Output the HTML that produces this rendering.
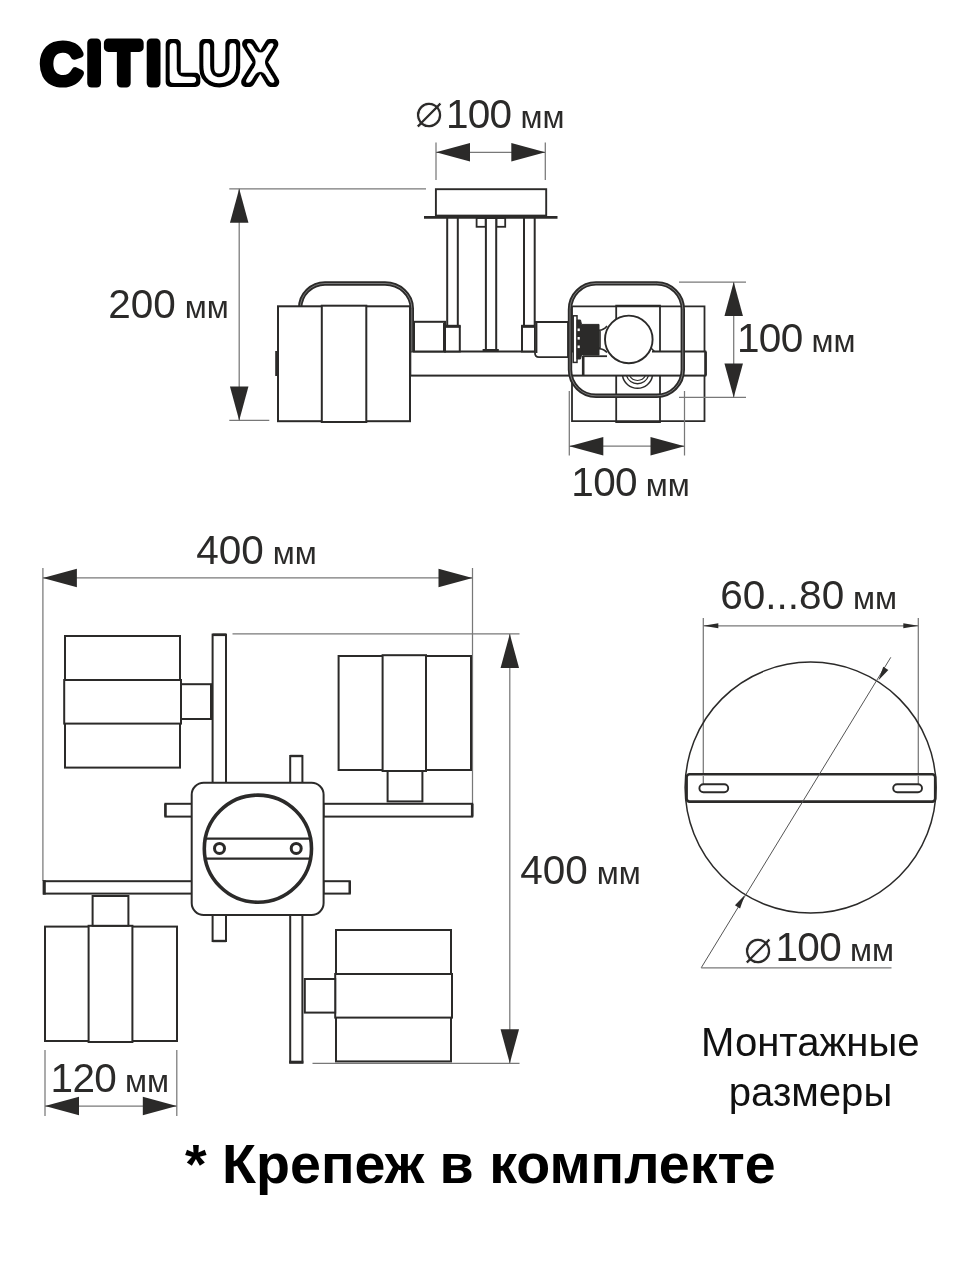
<!DOCTYPE html>
<html lang="ru"><head><meta charset="utf-8"><title>Citilux — монтажные размеры</title>
<style>
html,body{margin:0;padding:0;background:#fff}
body{width:960px;height:1280px;overflow:hidden}
svg{display:block}
.wrap{width:960px;height:1280px;will-change:transform}
.t{font-family:"Liberation Sans",sans-serif;fill:#2b2a29}
.dia{font-family:"DejaVu Sans",sans-serif;stroke:#fff;stroke-width:0.9}
.b{font-family:"Liberation Sans",sans-serif;font-weight:bold;fill:#000}
.lg{font-family:"Liberation Sans",sans-serif;fill:#000;stroke:#000;stroke-linejoin:round;stroke-linecap:round}
</style></head><body>
<div class="wrap">
<svg width="960" height="1280" viewBox="0 0 960 1280">
<rect width="960" height="1280" fill="#fff"/>
<defs><filter id="ol" x="-20%" y="-20%" width="140%" height="140%" color-interpolation-filters="sRGB"><feGaussianBlur in="SourceAlpha" stdDeviation="2.5" result="b"/><feComponentTransfer in="b" result="e"><feFuncA type="linear" slope="22" intercept="-20.3"/></feComponentTransfer><feFlood flood-color="#fff"/><feComposite in2="e" operator="in" result="w"/><feMerge><feMergeNode in="SourceGraphic"/><feMergeNode in="w"/></feMerge></filter></defs>
<g class="logo"><text class="lg"><tspan x="41.14" y="82.65" font-size="56.36" stroke-width="8.2" textLength="40.89" lengthAdjust="spacingAndGlyphs">C</tspan><tspan x="86.48" y="82.80" font-size="56.83" stroke-width="9" textLength="15.24" lengthAdjust="spacingAndGlyphs">I</tspan><tspan x="107.12" y="82.80" font-size="56.83" stroke-width="9" textLength="33.59" lengthAdjust="spacingAndGlyphs">T</tspan><tspan x="145.98" y="82.80" font-size="56.83" stroke-width="9" textLength="15.24" lengthAdjust="spacingAndGlyphs">I</tspan></text><text class="lg" filter="url(#ol)" x="166.04" y="82.40" font-size="55.67" stroke-width="9.8" textLength="31.28" lengthAdjust="spacingAndGlyphs">L</text><text class="lg" filter="url(#ol)" x="199.96" y="81.86" font-size="54.89" stroke-width="9.8" textLength="39.57" lengthAdjust="spacingAndGlyphs">U</text><text class="lg" filter="url(#ol)" x="244.13" y="82.40" font-size="55.67" stroke-width="9.8" textLength="31.87" lengthAdjust="spacingAndGlyphs">X</text></g>
<text x="414.6" y="128.4" class="t" font-size="40.5" text-anchor="start" letter-spacing="-0.65"><tspan class="dia" font-size="48.4" dy="-1.6">⌀</tspan><tspan dy="1.6" dx="2.8">100</tspan><tspan font-size="32" letter-spacing="0"> мм</tspan></text>
<line x1="436" y1="142.5" x2="436" y2="180" stroke="#787878" stroke-width="1.25" />
<line x1="545.3" y1="142.5" x2="545.3" y2="180" stroke="#787878" stroke-width="1.25" />
<line x1="436" y1="152.25" x2="545.3" y2="152.25" stroke="#787878" stroke-width="1.25" />
<polygon points="436.00,152.25 470.00,143.00 470.00,161.50" fill="#2b2a29"/>
<polygon points="545.30,152.25 511.30,161.50 511.30,143.00" fill="#2b2a29"/>
<line x1="229.3" y1="188.8" x2="426" y2="188.8" stroke="#787878" stroke-width="1.25" />
<line x1="229.3" y1="420.4" x2="269.3" y2="420.4" stroke="#787878" stroke-width="1.25" />
<line x1="239.2" y1="188.8" x2="239.2" y2="420.4" stroke="#787878" stroke-width="1.25" />
<polygon points="239.20,188.80 248.45,222.80 229.95,222.80" fill="#2b2a29"/>
<polygon points="239.20,420.40 229.95,386.40 248.45,386.40" fill="#2b2a29"/>
<text x="108.3" y="317.6" class="t" font-size="40.5" text-anchor="start" letter-spacing="0">200<tspan font-size="32" letter-spacing="0"> мм</tspan></text>
<line x1="447.2" y1="218" x2="447.2" y2="326" stroke="#2b2a29" stroke-width="2.0" />
<line x1="457.8" y1="218" x2="457.8" y2="326" stroke="#2b2a29" stroke-width="2.0" />
<line x1="524" y1="218" x2="524" y2="326" stroke="#2b2a29" stroke-width="2.0" />
<line x1="534.7" y1="218" x2="534.7" y2="326" stroke="#2b2a29" stroke-width="2.0" />
<rect x="476.6" y="218" width="9.1" height="8.8" rx="0" fill="#fff" stroke="#2b2a29" stroke-width="1.8"/>
<rect x="496.4" y="218" width="8.8" height="8.8" rx="0" fill="#fff" stroke="#2b2a29" stroke-width="1.8"/>
<rect x="485.9" y="218" width="10.3" height="132" rx="0" fill="#fff" stroke="#2b2a29" stroke-width="2.0"/>
<rect x="435.9" y="189.2" width="110.3" height="26.4" rx="0" fill="#fff" stroke="#2b2a29" stroke-width="1.9"/>
<line x1="424" y1="217.4" x2="557.5" y2="217.4" stroke="#2b2a29" stroke-width="2.6" />
<rect x="410.3" y="351.5" width="295.0" height="24.1" rx="0" fill="#fff" stroke="#2b2a29" stroke-width="2.0"/>
<line x1="482.6" y1="350.4" x2="498.8" y2="350.4" stroke="#2b2a29" stroke-width="2.8" />
<path d="M300.2 309 V308 A24.8 24.5 0 0 1 325 283.5 H385 A26.8 25 0 0 1 411.8 308.5 V351.5" fill="none" stroke="#2b2a29" stroke-width="4.4"/>
<path d="M300.2 309 V308 A24.8 24.5 0 0 1 325 283.5 H385 A26.8 25 0 0 1 411.8 308.5 V351.5" fill="none" stroke="#8e8e8e" stroke-width="0.8"/>
<rect x="278" y="306.3" width="132" height="114.9" rx="0" fill="#fff" stroke="#2b2a29" stroke-width="2.0"/>
<rect x="321.8" y="305.7" width="44.5" height="116.3" rx="0" fill="#fff" stroke="#2b2a29" stroke-width="2.0"/>
<line x1="276.4" y1="351" x2="276.4" y2="376" stroke="#2b2a29" stroke-width="2.4" />
<rect x="414" y="321.8" width="31" height="29.7" rx="0" fill="#fff" stroke="#2b2a29" stroke-width="2.0"/>
<rect x="445" y="326.2" width="14.8" height="25.3" rx="0" fill="#fff" stroke="#2b2a29" stroke-width="2.0"/>
<line x1="445" y1="326.3" x2="460.4" y2="326.3" stroke="#2b2a29" stroke-width="3.0" />
<line x1="444.2" y1="323" x2="444.2" y2="351.5" stroke="#2b2a29" stroke-width="2.4" />
<rect x="522" y="326.2" width="13" height="25.3" rx="0" fill="#fff" stroke="#2b2a29" stroke-width="2.0"/>
<line x1="521.2" y1="326.3" x2="535.6" y2="326.3" stroke="#2b2a29" stroke-width="3.0" />
<path d="M535 322 H568 V357.2 H539 Q535 357.2 535 353 Z" fill="#fff" stroke="#2b2a29" stroke-width="1.8"/>
<line x1="536.6" y1="323" x2="536.6" y2="353" stroke="#2b2a29" stroke-width="1.6" />
<g fill="none" stroke="#2b2a29" stroke-width="1.8">
<path d="M572 306.3 H704.5 V351.5 M704.5 375.6 V421.2 H572 V375.6 M572 351.5 V306.3"/>
<path d="M616.2 351 V305.7 H660 V351.5 M616.2 375.6 V422 H660 V375.6"/>
</g>
<line x1="705.8" y1="351.5" x2="705.8" y2="375.6" stroke="#2b2a29" stroke-width="2.2" />
<path d="M622.5 375.6 A15.2 15.2 0 0 0 652.5 375.6" fill="none" stroke="#2b2a29" stroke-width="1.5"/>
<path d="M626.5 375.6 A11.5 11.5 0 0 0 648.5 375.6" fill="none" stroke="#2b2a29" stroke-width="1.3"/>
<path d="M629.5 375.6 A9 9 0 0 0 645.5 375.6" fill="none" stroke="#2b2a29" stroke-width="1.1"/>
<rect x="573" y="349" width="79" height="5" fill="#fff"/>
<line x1="583" y1="356.2" x2="607" y2="356.2" stroke="#2b2a29" stroke-width="1.8" />
<line x1="583.2" y1="356" x2="583.2" y2="375.6" stroke="#2b2a29" stroke-width="2.6" />
<rect x="573.2" y="315.8" width="3.8" height="46.6" rx="0" fill="#fff" stroke="#2b2a29" stroke-width="1.5"/>
<path d="M577 320 H580.5 L581.5 324.4 H599 V355 H581.5 L580.5 359 H577 Z" fill="#2b2a29" stroke="#2b2a29" stroke-width="1"/>
<rect x="577.6" y="328.5" width="2.2" height="2.6" fill="#fff"/>
<rect x="577.6" y="337" width="2.2" height="2.6" fill="#fff"/>
<rect x="577.6" y="345.5" width="2.2" height="2.6" fill="#fff"/>
<path d="M599 330.3 Q604 330 607 326 M599 348.6 Q604 349 607 352.5 M600 330 V349" fill="none" stroke="#2b2a29" stroke-width="1.6"/>
<circle cx="628.8" cy="339.4" r="23.8" fill="#fff" stroke="#2b2a29" stroke-width="1.9"/>
<path d="M650.5 347.5 L654.5 351.5" stroke="#2b2a29" stroke-width="1.4"/>
<rect x="570" y="283.4" width="112.8" height="112.4" rx="26" fill="none" stroke="#2b2a29" stroke-width="4.4"/>
<rect x="570" y="283.4" width="112.8" height="112.4" rx="26" fill="none" stroke="#8e8e8e" stroke-width="0.8"/>
<line x1="679" y1="282" x2="746" y2="282" stroke="#787878" stroke-width="1.25" />
<line x1="679" y1="397.4" x2="746" y2="397.4" stroke="#787878" stroke-width="1.25" />
<line x1="733.7" y1="282" x2="733.7" y2="397.4" stroke="#787878" stroke-width="1.25" />
<polygon points="733.70,282.00 742.95,316.00 724.45,316.00" fill="#2b2a29"/>
<polygon points="733.70,397.40 724.45,363.40 742.95,363.40" fill="#2b2a29"/>
<text x="737.0" y="351.5" class="t" font-size="40.5" text-anchor="start" letter-spacing="-0.65">100<tspan font-size="32" letter-spacing="0"> мм</tspan></text>
<line x1="569.3" y1="391" x2="569.3" y2="455.5" stroke="#787878" stroke-width="1.25" />
<line x1="684.5" y1="391" x2="684.5" y2="455.5" stroke="#787878" stroke-width="1.25" />
<line x1="569.3" y1="446.2" x2="684.5" y2="446.2" stroke="#787878" stroke-width="1.25" />
<polygon points="569.30,446.20 603.30,436.95 603.30,455.45" fill="#2b2a29"/>
<polygon points="684.50,446.20 650.50,455.45 650.50,436.95" fill="#2b2a29"/>
<text x="571.3" y="495.6" class="t" font-size="40.5" text-anchor="start" letter-spacing="-0.65">100<tspan font-size="32" letter-spacing="0"> мм</tspan></text>
<line x1="42.9" y1="568" x2="42.9" y2="881" stroke="#787878" stroke-width="1.25" />
<line x1="472.5" y1="568" x2="472.5" y2="805" stroke="#787878" stroke-width="1.25" />
<line x1="42.9" y1="577.9" x2="472.5" y2="577.9" stroke="#787878" stroke-width="1.25" />
<polygon points="42.90,577.90 76.90,568.65 76.90,587.15" fill="#2b2a29"/>
<polygon points="472.50,577.90 438.50,587.15 438.50,568.65" fill="#2b2a29"/>
<text x="196.3" y="563.6" class="t" font-size="40.5" text-anchor="start" letter-spacing="0">400<tspan font-size="32" letter-spacing="0"> мм</tspan></text>
<line x1="232.5" y1="633.8" x2="519.5" y2="633.8" stroke="#787878" stroke-width="1.25" />
<line x1="312.5" y1="1063.3" x2="519.5" y2="1063.3" stroke="#787878" stroke-width="1.25" />
<line x1="509.8" y1="634" x2="509.8" y2="1063" stroke="#787878" stroke-width="1.25" />
<polygon points="509.80,634.00 519.05,668.00 500.55,668.00" fill="#2b2a29"/>
<polygon points="509.80,1063.20 500.55,1029.20 519.05,1029.20" fill="#2b2a29"/>
<text x="520.3" y="883.8" class="t" font-size="40.5" text-anchor="start" letter-spacing="0">400<tspan font-size="32" letter-spacing="0"> мм</tspan></text>
<line x1="45" y1="1050" x2="45" y2="1116" stroke="#787878" stroke-width="1.25" />
<line x1="176.8" y1="1050" x2="176.8" y2="1116" stroke="#787878" stroke-width="1.25" />
<line x1="45" y1="1106" x2="176.8" y2="1106" stroke="#787878" stroke-width="1.25" />
<polygon points="45.00,1106.00 79.00,1096.75 79.00,1115.25" fill="#2b2a29"/>
<polygon points="176.80,1106.00 142.80,1115.25 142.80,1096.75" fill="#2b2a29"/>
<text x="50.599999999999994" y="1092" class="t" font-size="40.5" text-anchor="start" letter-spacing="-0.65">120<tspan font-size="32" letter-spacing="0"> мм</tspan></text>
<rect x="212.6" y="634.6" width="13.4" height="148.4" rx="0" fill="#fff" stroke="#2b2a29" stroke-width="2.0"/>
<line x1="212.6" y1="634.8" x2="226" y2="634.8" stroke="#2b2a29" stroke-width="2.6" />
<rect x="212.6" y="915" width="13.4" height="26" rx="0" fill="#fff" stroke="#2b2a29" stroke-width="2.0"/>
<line x1="212.6" y1="941" x2="226" y2="941" stroke="#2b2a29" stroke-width="2.4" />
<rect x="290.2" y="756" width="12.2" height="27" rx="0" fill="#fff" stroke="#2b2a29" stroke-width="2.0"/>
<line x1="290.2" y1="756" x2="302.4" y2="756" stroke="#2b2a29" stroke-width="2.4" />
<rect x="290.2" y="915" width="12.2" height="147.4" rx="0" fill="#fff" stroke="#2b2a29" stroke-width="2.0"/>
<line x1="289.2" y1="1062.2" x2="303.4" y2="1062.2" stroke="#2b2a29" stroke-width="3.0" />
<rect x="323.5" y="803.8" width="148.7" height="12.8" rx="0" fill="#fff" stroke="#2b2a29" stroke-width="2.0"/>
<line x1="472.2" y1="803.8" x2="472.2" y2="816.6" stroke="#2b2a29" stroke-width="2.6" />
<rect x="165.4" y="803.8" width="26.6" height="12.8" rx="0" fill="#fff" stroke="#2b2a29" stroke-width="2.0"/>
<line x1="165.4" y1="803.8" x2="165.4" y2="816.6" stroke="#2b2a29" stroke-width="2.4" />
<rect x="44" y="881.2" width="148" height="12.4" rx="0" fill="#fff" stroke="#2b2a29" stroke-width="2.0"/>
<line x1="44.2" y1="880.2" x2="44.2" y2="894.6" stroke="#2b2a29" stroke-width="3.2" />
<rect x="323.5" y="881.2" width="26.3" height="12.4" rx="0" fill="#fff" stroke="#2b2a29" stroke-width="2.0"/>
<line x1="349.8" y1="881.2" x2="349.8" y2="893.6" stroke="#2b2a29" stroke-width="2.4" />
<rect x="191.7" y="782.7" width="131.9" height="132.3" rx="12" fill="#fff" stroke="#2b2a29" stroke-width="2.0"/>
<circle cx="257.9" cy="848.7" r="53.6" fill="#fff" stroke="#2b2a29" stroke-width="3.6"/>
<line x1="205.2" y1="838.7" x2="310.6" y2="838.7" stroke="#2b2a29" stroke-width="2.2" />
<line x1="205.2" y1="858.7" x2="310.6" y2="858.7" stroke="#2b2a29" stroke-width="2.2" />
<circle cx="219.5" cy="848.4" r="5" fill="#fff" stroke="#2b2a29" stroke-width="3"/>
<circle cx="296.2" cy="848.4" r="5" fill="#fff" stroke="#2b2a29" stroke-width="3"/>
<rect x="65" y="636" width="115" height="131.6" rx="0" fill="#fff" stroke="#2b2a29" stroke-width="2.0"/>
<rect x="64.2" y="680" width="116.8" height="43.6" rx="0" fill="#fff" stroke="#2b2a29" stroke-width="2.0"/>
<rect x="181" y="684.2" width="30" height="34.8" rx="0" fill="#fff" stroke="#2b2a29" stroke-width="2.0"/>
<rect x="338.6" y="656" width="132.4" height="114" rx="0" fill="#fff" stroke="#2b2a29" stroke-width="2.0"/>
<rect x="382.6" y="655.2" width="43.4" height="115.8" rx="0" fill="#fff" stroke="#2b2a29" stroke-width="2.0"/>
<rect x="387.6" y="771" width="34.8" height="30.4" rx="0" fill="#fff" stroke="#2b2a29" stroke-width="2.0"/>
<rect x="45" y="926.6" width="132" height="114.4" rx="0" fill="#fff" stroke="#2b2a29" stroke-width="2.0"/>
<rect x="88.6" y="925.8" width="43.8" height="116.2" rx="0" fill="#fff" stroke="#2b2a29" stroke-width="2.0"/>
<rect x="92.6" y="896" width="35.8" height="29.8" rx="0" fill="#fff" stroke="#2b2a29" stroke-width="2.0"/>
<rect x="336" y="930" width="115" height="131.4" rx="0" fill="#fff" stroke="#2b2a29" stroke-width="2.0"/>
<rect x="335.2" y="974" width="116.8" height="43.6" rx="0" fill="#fff" stroke="#2b2a29" stroke-width="2.0"/>
<rect x="304.8" y="979" width="30.4" height="33.6" rx="0" fill="#fff" stroke="#2b2a29" stroke-width="2.0"/>
<text x="720.3" y="608.8" class="t" font-size="40.5" text-anchor="start" letter-spacing="0">60...80<tspan font-size="32" letter-spacing="0"> мм</tspan></text>
<line x1="703.3" y1="618" x2="703.3" y2="788" stroke="#787878" stroke-width="1.25" />
<line x1="918.3" y1="618" x2="918.3" y2="788" stroke="#787878" stroke-width="1.25" />
<line x1="703.3" y1="625.8" x2="918.3" y2="625.8" stroke="#787878" stroke-width="1.25" />
<polygon points="703.30,625.80 718.30,623.30 718.30,628.30" fill="#2b2a29"/>
<polygon points="918.30,625.80 903.30,628.30 903.30,623.30" fill="#2b2a29"/>
<circle cx="810.6" cy="787.6" r="125.5" fill="none" stroke="#2b2a29" stroke-width="1.5"/>
<rect x="686.6" y="774.2" width="248.6" height="27.4" rx="3" fill="#fff" stroke="#2b2a29" stroke-width="2.6"/>
<line x1="703.3" y1="776" x2="703.3" y2="788" stroke="#787878" stroke-width="1.25" />
<line x1="918.3" y1="776" x2="918.3" y2="788" stroke="#787878" stroke-width="1.25" />
<rect x="699.4" y="784.2" width="28.8" height="8" rx="4" fill="#fff" stroke="#2b2a29" stroke-width="1.9"/>
<rect x="893.2" y="784.2" width="28.8" height="8" rx="4" fill="#fff" stroke="#2b2a29" stroke-width="1.9"/>
<line x1="890.8" y1="657.3" x2="701.2" y2="967.8" stroke="#555" stroke-width="1.0" />
<line x1="701.2" y1="967.8" x2="891.5" y2="967.8" stroke="#787878" stroke-width="1.25" />
<polygon points="878.50,680.30 883.24,666.79 888.36,669.91" fill="#2b2a29"/>
<polygon points="744.80,894.90 740.06,908.41 734.94,905.29" fill="#2b2a29"/>
<text x="743.4" y="960.5" class="t" font-size="40.5" text-anchor="start" letter-spacing="-0.65"><tspan class="dia" font-size="48.4" dy="2.4">⌀</tspan><tspan dy="-2.4" dx="3.6">100</tspan><tspan font-size="32" letter-spacing="0"> мм</tspan></text>
<text x="810.3" y="1056.4" class="t" style="fill:#111" font-size="40.1" text-anchor="middle">Монтажные</text>
<text x="810.5" y="1105.6" class="t" style="fill:#111" font-size="40.1" text-anchor="middle">размеры</text>
<text x="185" y="1183.4" class="b" font-size="55.6">* Крепеж в комплекте</text>
</svg>
</div>
</body></html>
